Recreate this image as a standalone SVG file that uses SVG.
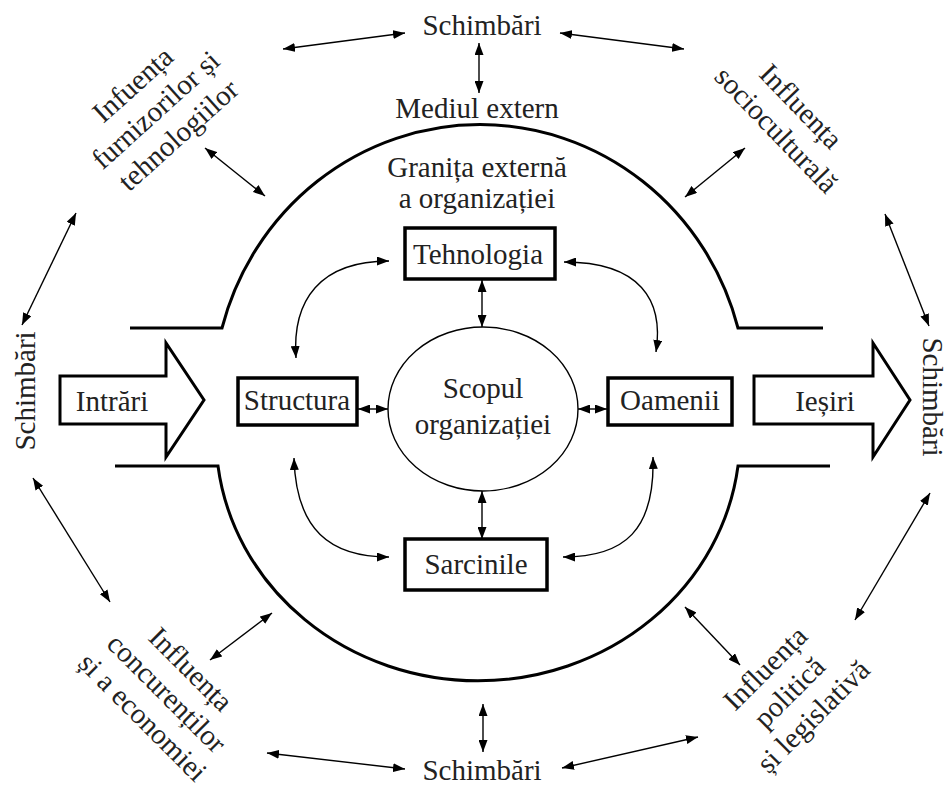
<svg xmlns="http://www.w3.org/2000/svg" width="948" height="786" viewBox="0 0 948 786" font-family="'Liberation Serif', 'Times New Roman', serif">
  <defs>
    <marker id="head" viewBox="0 0 12 9" refX="12" refY="4.5" markerWidth="12" markerHeight="9" markerUnits="userSpaceOnUse" orient="auto-start-reverse">
      <path d="M0,0 L12,4.5 L0,9 z" fill="#000"/>
    </marker>
    <style>
      text { font-family: 'Liberation Serif', 'Times New Roman', serif; font-size: 29px; fill: #222; text-anchor: middle; }
      .box { fill: #fff; stroke: #000; stroke-width: 3.5; }
      .big { fill: #fff; stroke: #000; stroke-width: 3; stroke-linejoin: miter; }
      .wall { fill: none; stroke: #000; stroke-width: 3; }
      .link { fill: none; stroke: #000; stroke-width: 1.4; marker-start: url(#head); marker-end: url(#head); }
    </style>
  </defs>
  <rect width="948" height="786" fill="#fff"/>

  <!-- organisation boundary -->
  <g id="boundary">
    <path class="wall" d="M130,328 H222 A267,274 0 0 1 738,328 H823"/>
    <path class="wall" d="M115,466 H218 A262,245 0 0 0 738,466 H830"/>
  </g>

  <!-- connectors -->
  <g id="connectors">
    <line class="link" x1="283" y1="49" x2="405" y2="33"/>
    <line class="link" x1="560" y1="33" x2="684" y2="49"/>
    <line class="link" x1="479" y1="43" x2="479" y2="93"/>
    <line class="link" x1="205" y1="148" x2="265" y2="196"/>
    <line class="link" x1="745" y1="148" x2="685" y2="197"/>
    <line class="link" x1="76" y1="213" x2="22" y2="325"/>
    <line class="link" x1="885" y1="214" x2="929" y2="326"/>
    <line class="link" x1="33" y1="478" x2="110" y2="602"/>
    <line class="link" x1="930" y1="493" x2="855" y2="620"/>
    <line class="link" x1="272" y1="613" x2="210" y2="660"/>
    <line class="link" x1="685" y1="607" x2="740" y2="665"/>
    <line class="link" x1="483" y1="704" x2="483" y2="752"/>
    <line class="link" x1="267" y1="753" x2="405" y2="769"/>
    <line class="link" x1="562" y1="768" x2="698" y2="737"/>
    <line class="link" x1="482" y1="280" x2="482" y2="327"/>
    <line class="link" x1="482" y1="491" x2="482" y2="539"/>
    <line class="link" x1="358" y1="409" x2="388" y2="409"/>
    <line class="link" x1="578" y1="409" x2="607" y2="409"/>
    <path class="link" d="M296,358 C292,300 320,261 389,261"/>
    <path class="link" d="M564,262 C640,262 664,300 656,352"/>
    <path class="link" d="M294,458 C296,530 330,557 389,557"/>
    <path class="link" d="M563,557 C625,557 655,530 653,457"/>
  </g>

  <g id="changes-top"><text x="482" y="35">Schimbări</text></g>
  <g id="changes-bottom"><text x="482" y="780">Schimbări</text></g>
  <g id="changes-left"><text transform="translate(35,391) rotate(-90)">Schimbări</text></g>
  <g id="changes-right"><text transform="translate(923,397) rotate(90)" font-size="27">Schimbări</text></g>

  <g id="environment"><text x="477" y="118">Mediul extern</text></g>
  <g id="border-label">
    <text x="477" y="177">Granița externă</text>
    <text x="477" y="208">a organizației</text>
  </g>

  <g id="suppliers" transform="translate(162,117) rotate(-42)">
    <text y="-34">Infuența</text>
    <text y="0">furnizorilor și</text>
    <text y="34">tehnologiilor</text>
  </g>
  <g id="sociocultural" transform="translate(794,113) rotate(46)">
    <text y="0">Influența</text>
    <text y="34">socioculturală</text>
  </g>
  <g id="competitors" transform="translate(184,676) rotate(45)">
    <text y="0">Influența</text>
    <text y="34">concurenților</text>
    <text y="68">și a economiei</text>
  </g>
  <g id="political" transform="translate(772,675) rotate(-45)">
    <text y="0">Influența</text>
    <text y="34">politică</text>
    <text y="68">și legislativă</text>
  </g>

  <g id="inputs">
    <polygon class="big" points="60,376 166,376 166,343 204,400 166,457 166,424 60,424"/>
    <text x="112" y="411">Intrări</text>
  </g>
  <g id="outputs">
    <polygon class="big" points="754,376 873,376 873,343 910,400 873,457 873,424 754,424"/>
    <text x="825" y="411">Ieșiri</text>
  </g>

  <g id="technology">
    <rect class="box" x="405" y="228" width="150" height="51"/>
    <text x="478" y="264">Tehnologia</text>
  </g>
  <g id="structure">
    <rect class="box" x="238" y="378" width="119" height="47"/>
    <text x="297" y="410">Structura</text>
  </g>
  <g id="people">
    <rect class="box" x="608" y="378" width="124" height="47"/>
    <text x="670" y="410">Oamenii</text>
  </g>
  <g id="tasks">
    <rect class="box" x="405" y="539" width="142" height="51"/>
    <text x="476" y="574">Sarcinile</text>
  </g>
  <g id="purpose">
    <ellipse cx="483" cy="409" rx="95" ry="82" fill="#fff" stroke="#000" stroke-width="1.4"/>
    <text x="483" y="398">Scopul</text>
    <text x="483" y="434">organizației</text>
  </g>
</svg>
